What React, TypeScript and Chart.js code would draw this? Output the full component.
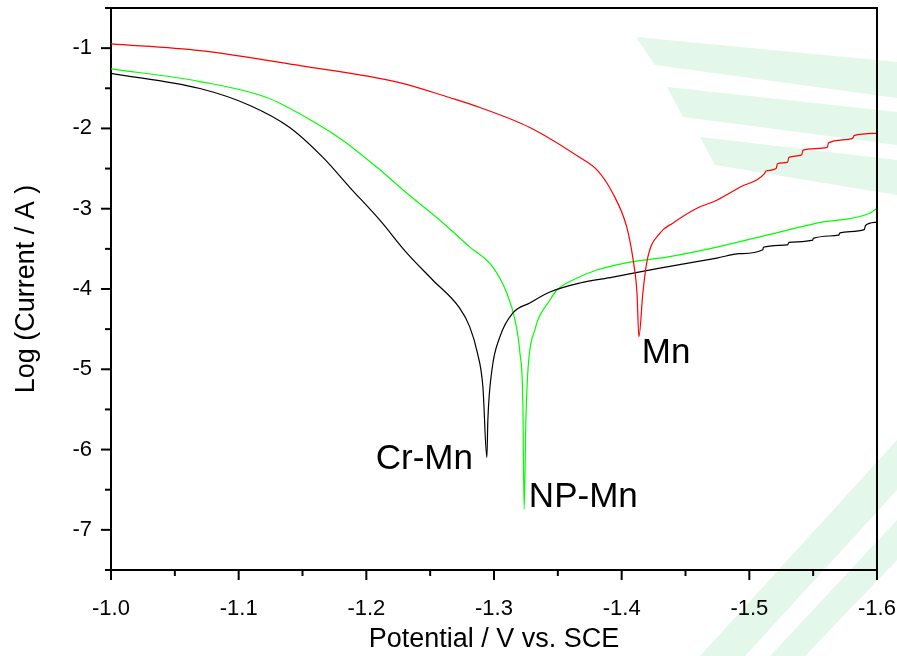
import React, { useEffect, useRef } from "react";
import { Chart, registerables } from "chart.js";

Chart.register(...registerables);

// Potential (V vs. SCE) and log(current / A) for each sample
const mnX = [-1.0, -1.0697, -1.148, -1.226, -1.265, -1.289, -1.328, -1.367, -1.381, -1.393, -1.404, -1.409, -1.412, -1.4135, -1.4166, -1.42, -1.43, -1.44, -1.459, -1.4745, -1.4926, -1.512, -1.513, -1.521, -1.522, -1.530, -1.531, -1.541, -1.542, -1.561, -1.562, -1.581, -1.582, -1.600];
const mnY = [-0.948, -1.031, -1.217, -1.429, -1.615, -1.739, -1.988, -2.36, -2.522, -2.807, -3.23, -3.64, -4.05, -4.596, -4.05, -3.64, -3.304, -3.18, -2.994, -2.894, -2.733, -2.559, -2.53, -2.50, -2.44, -2.42, -2.36, -2.33, -2.27, -2.236, -2.18, -2.124, -2.09, -2.062];

const crMnX = [-1.0, -1.0697, -1.1088, -1.14, -1.166, -1.187, -1.2106, -1.2318, -1.252, -1.273, -1.281, -1.287, -1.2913, -1.2944, -1.2952, -1.2984, -1.3046, -1.3148, -1.328, -1.3438, -1.3673, -1.3931, -1.4299, -1.4746, -1.4926, -1.5106, -1.511, -1.53, -1.531, -1.5497, -1.55, -1.57, -1.571, -1.59, -1.591, -1.600];
const crMnY = [-1.313, -1.503, -1.714, -1.988, -2.36, -2.733, -3.143, -3.553, -3.888, -4.236, -4.472, -4.795, -5.217, -6.099, -5.627, -5.006, -4.596, -4.298, -4.174, -4.037, -3.925, -3.851, -3.739, -3.615, -3.56, -3.51, -3.48, -3.45, -3.42, -3.391, -3.37, -3.33, -3.30, -3.26, -3.21, -3.168];

const npMnX = [-1.0, -1.0697, -1.122, -1.161, -1.1817, -1.2083, -1.2318, -1.2576, -1.2811, -1.2991, -1.31, -1.3164, -1.3203, -1.3226, -1.3236, -1.325, -1.3266, -1.332, -1.3438, -1.3493, -1.3618, -1.3806, -1.4064, -1.4354, -1.4746, -1.5137, -1.5528, -1.5943, -1.600];
const npMnY = [-1.258, -1.416, -1.615, -1.938, -2.149, -2.484, -2.807, -3.143, -3.478, -3.727, -4.05, -4.385, -4.795, -5.416, -6.745, -5.627, -5.006, -4.509, -4.137, -4.012, -3.888, -3.764, -3.665, -3.602, -3.478, -3.329, -3.18, -3.056, -2.994];

// Curve labels (text, anchor potential, anchor log current, alignment)
const labelTexts = ["Mn", "Cr-Mn", "NP-Mn"];
const labelX = [-1.4158, -1.2835, -1.3273];
const labelY = [-4.919, -6.248, -6.72];
const labelAlign: CanvasTextAlign[] = ["left", "right", "left"];

const xTitle = "Potential / V vs. SCE";
const yTitle = "Log (Current / A )";

const FONT = "'Liberation Sans', Arial, Helvetica, sans-serif";

function pts(xs: number[], ys: number[]) {
  return xs.map((x, i) => ({ x, y: ys[i] }));
}

const watermarkPlugin = {
  id: "watermark",
  beforeDraw(chart: any) {
    const ctx = chart.ctx;
    const polys = [
      [[636, 37], [897, 62], [897, 98], [655, 65]],
      [[667, 87], [897, 112], [897, 145], [683, 117]],
      [[700, 137], [897, 160], [897, 195], [715, 165]],
      [[700, 656], [897, 440], [897, 490], [745, 656]],
      [[770, 656], [897, 520], [897, 560], [805, 656]],
    ];
    ctx.save();
    ctx.fillStyle = "rgba(215,243,225,0.7)";
    for (const p of polys) {
      ctx.beginPath();
      ctx.moveTo(p[0][0], p[0][1]);
      for (let i = 1; i < p.length; i++) ctx.lineTo(p[i][0], p[i][1]);
      ctx.closePath();
      ctx.fill();
    }
    ctx.restore();
  },
};

const framePlugin = {
  id: "frame",
  afterDraw(chart: any) {
    const ctx = chart.ctx;
    const { left, right, top, bottom } = chart.chartArea;
    const xs = chart.scales.x;
    const ys = chart.scales.y;
    ctx.save();
    ctx.strokeStyle = "#000";
    ctx.lineWidth = 2;
    ctx.beginPath();
    ctx.moveTo(left - 1, top);
    ctx.lineTo(right, top);
    ctx.lineTo(right, bottom + 1);
    ctx.stroke();
    // tick marks
    ctx.lineWidth = 2;
    xs.ticks.forEach((t: any) => {
      const v = t.value;
      const major = Math.abs(v * 10 - Math.round(v * 10)) < 1e-6;
      const px = xs.getPixelForValue(v);
      ctx.beginPath();
      ctx.moveTo(px, bottom);
      ctx.lineTo(px, bottom + (major ? 10 : 6));
      ctx.stroke();
    });
    ys.ticks.forEach((t: any) => {
      const v = t.value;
      const major = Math.abs(v - Math.round(v)) < 1e-6;
      const py = ys.getPixelForValue(v);
      ctx.beginPath();
      ctx.moveTo(left, py);
      ctx.lineTo(left - (major ? 10 : 6), py);
      ctx.stroke();
    });
    // curve labels
    ctx.fillStyle = "#000";
    ctx.font = `35px ${FONT}`;
    ctx.textBaseline = "alphabetic";
    labelTexts.forEach((txt, i) => {
      ctx.textAlign = labelAlign[i];
      ctx.fillText(txt, xs.getPixelForValue(labelX[i]), ys.getPixelForValue(labelY[i]));
    });
    ctx.restore();
  },
};

export default function App() {
  const ref = useRef<HTMLCanvasElement>(null);
  useEffect(() => {
    if (!ref.current) return;
    const chart = new Chart(ref.current, {
      type: "line",
      data: {
        datasets: [
          { label: "Mn", data: pts(mnX, mnY), borderColor: "#ff0000", borderWidth: 1.2, pointRadius: 0, tension: 0.4, cubicInterpolationMode: "monotone", fill: false },
          { label: "Cr-Mn", data: pts(crMnX, crMnY), borderColor: "#000000", borderWidth: 1.2, pointRadius: 0, tension: 0.4, cubicInterpolationMode: "monotone", fill: false },
          { label: "NP-Mn", data: pts(npMnX, npMnY), borderColor: "#00ff00", borderWidth: 1.2, pointRadius: 0, tension: 0.4, cubicInterpolationMode: "monotone", fill: false },
        ],
      },
      options: {
        animation: false,
        responsive: false,
        maintainAspectRatio: false,
        layout: { padding: { top: 8, right: 20, left: 0, bottom: 0 } },
        plugins: { legend: { display: false }, tooltip: { enabled: false } },
        scales: {
          x: {
            type: "linear",
            min: -1.6,
            max: -1.0,
            reverse: true,
            grid: { display: false },
            border: { display: true, color: "#000", width: 2 },
            ticks: {
              stepSize: 0.05,
              autoSkip: false,
              maxRotation: 0,
              padding: 18,
              color: "#000",
              font: { family: FONT, size: 22 },
              callback: (v: any) => {
                const n = Number(v);
                return Math.abs(n * 10 - Math.round(n * 10)) < 1e-6 ? n.toFixed(1) : "";
              },
            },
            title: { display: true, text: xTitle, color: "#000", font: { family: FONT, size: 27 }, padding: { top: 1, bottom: 0 } },
            afterFit: (s: any) => { s.height = 86; s.paddingLeft = 0; s.paddingRight = 0; },
          },
          y: {
            type: "linear",
            min: -7.5,
            max: -0.5,
            grid: { display: false },
            border: { display: true, color: "#000", width: 2 },
            ticks: {
              stepSize: 0.5,
              autoSkip: false,
              padding: 11,
              color: "#000",
              font: { family: FONT, size: 22 },
              callback: (v: any) => {
                const n = Number(v);
                return Math.abs(n - Math.round(n)) < 1e-6 ? String(Math.round(n)) : "";
              },
            },
            title: { display: true, text: yTitle, color: "#000", font: { family: FONT, size: 27 }, padding: { top: 10, bottom: 10 } },
            afterFit: (s: any) => { s.width = 111; s.paddingTop = 0; s.paddingBottom = 0; },
          },
        },
      },
      plugins: [watermarkPlugin, framePlugin],
    } as any);
    return () => chart.destroy();
  }, []);
  return (
    <div style={{ position: "fixed", left: 0, top: 0, width: 897, height: 656, background: "#fff" }}>
      <canvas ref={ref} width={897} height={656} style={{ display: "block" }} />
    </div>
  );
}
